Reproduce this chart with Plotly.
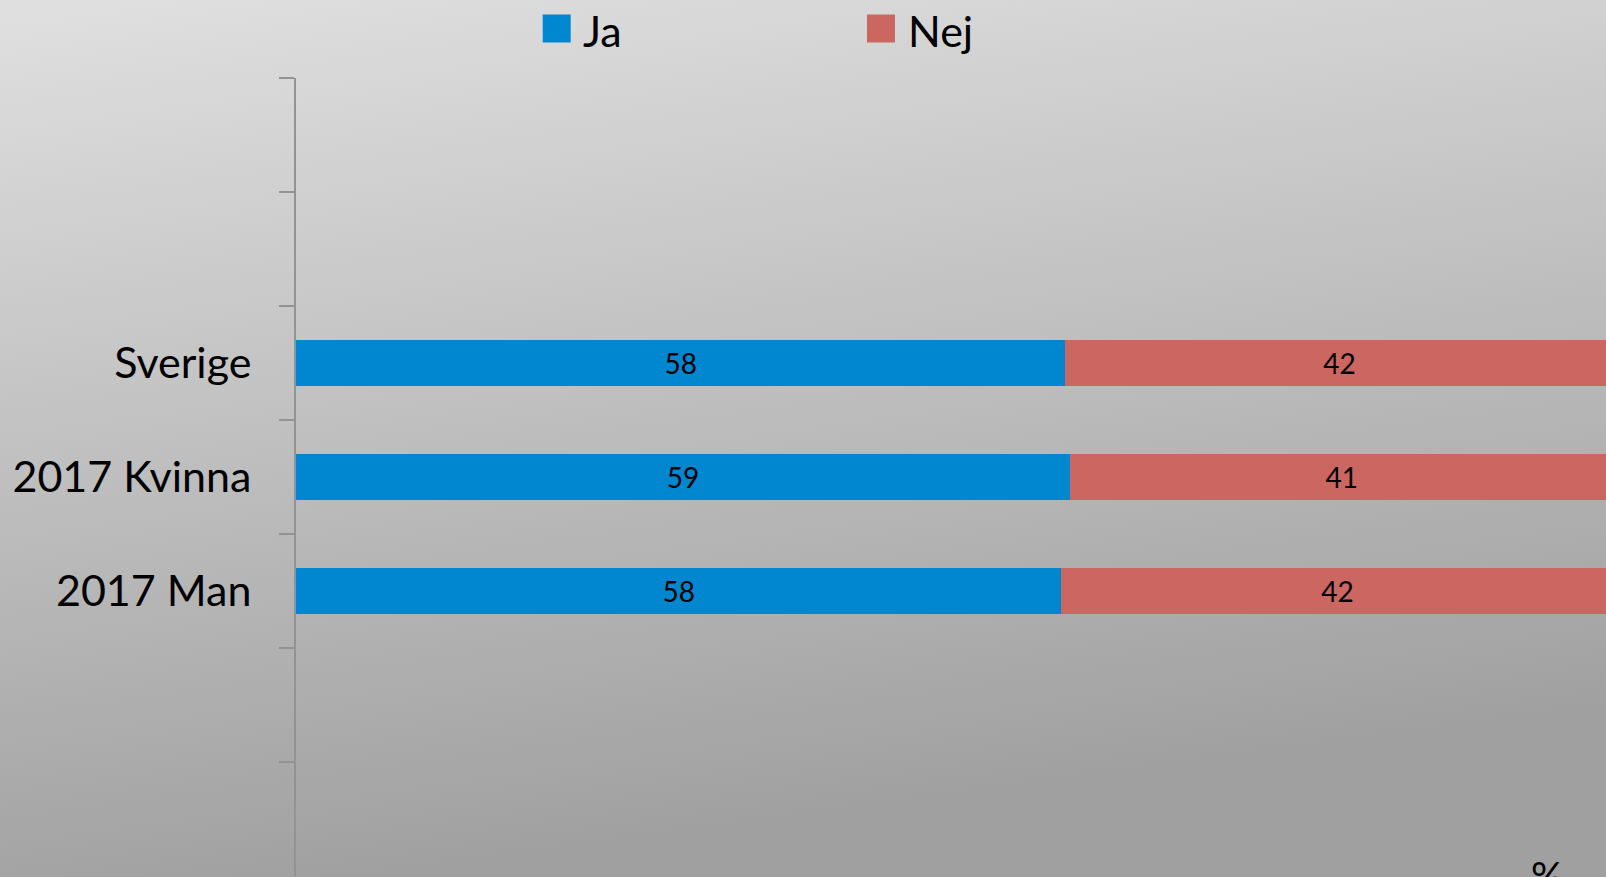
import base64
import plotly.graph_objects as go

# Data (top to bottom)
categories = ["Sverige", "2017 Kvinna", "2017 Man"]
ja_values = [58.4, 58.75, 58.1]
nej_values = [41.6, 41.25, 41.9]
series_names = ["Ja", "Nej"]
axis_unit = "%"
# empty slots above and below the bars, as in the original
slot_order = [" ", "  "] + categories + ["   ", "    "]

BLUE = "#0087CF"
RED = "#CC6660"
FONT = "Lato"

W, H = 1606, 877
L, T, B = 296, 78, 1
plot_w = W - L
plot_h = H - T - B


def px2x(px):
    return (px - L) / plot_w


def py2y(py):
    return (H - B - py) / plot_h


# Gradient background as an inline svg image
svg = (
    f'<svg xmlns="http://www.w3.org/2000/svg" width="{W}" height="{H}">'
    '<defs><linearGradient id="g" x1="0" y1="0" x2="0.25" y2="1">'
    '<stop offset="0" stop-color="#e0e0e0"/>'
    '<stop offset="1" stop-color="#a0a0a0"/>'
    '</linearGradient></defs>'
    f'<rect width="{W}" height="{H}" fill="url(#g)"/></svg>'
)
bg_src = "data:image/svg+xml;base64," + base64.b64encode(svg.encode()).decode()

fig = go.Figure()
for name, vals, col in [(series_names[0], ja_values, BLUE),
                        (series_names[1], nej_values, RED)]:
    fig.add_trace(go.Bar(
        y=categories, x=vals, name=name, orientation="h",
        marker=dict(color=col, line=dict(width=0)),
        texttemplate="%{x:.0f}", textposition="inside",
        insidetextanchor="middle", textangle=0, constraintext="none",
        textfont=dict(family=FONT, size=28, color="#000000"),
        showlegend=False,
    ))

# Hand-made legend (big squares like the original)
legend_items = [(series_names[0], BLUE, 542.7, 581), (series_names[1], RED, 867, 906)]
for name, col, sx, tx in legend_items:
    fig.add_shape(type="rect", xref="paper", yref="paper",
                  x0=px2x(sx), x1=px2x(sx + 28), y0=py2y(42.5), y1=py2y(14.5),
                  fillcolor=col, line=dict(width=0))
    fig.add_annotation(text=name, xref="paper", yref="paper",
                       x=px2x(tx), y=py2y(31), xanchor="left", yanchor="middle",
                       showarrow=False, font=dict(family=FONT, size=43, color="#000000"))

fig.add_annotation(text=axis_unit, xref="paper", yref="paper",
                   x=px2x(1547), y=py2y(850), xanchor="center", yanchor="top",
                   showarrow=False, font=dict(family=FONT, size=40, color="#000000"))

fig.add_layout_image(dict(
    source=bg_src, xref="paper", yref="paper",
    x=px2x(0), y=py2y(0), sizex=W / plot_w, sizey=H / plot_h,
    sizing="stretch", xanchor="left", yanchor="top", layer="below",
))

fig.update_layout(
    width=W, height=H,
    margin=dict(l=L, r=0, t=T, b=B, pad=0),
    barmode="stack", bargap=0.59,
    paper_bgcolor="rgba(0,0,0,0)", plot_bgcolor="rgba(0,0,0,0)",
    font=dict(family=FONT, color="#000000"),
    xaxis=dict(range=[0, 99.43], showgrid=False, zeroline=False,
               showticklabels=False, ticks="", showline=False),
    yaxis=dict(categoryorder="array", categoryarray=slot_order,
               range=[len(slot_order) - 0.5, -0.5],
               showgrid=False, zeroline=False,
               showline=True, linecolor="#939393", linewidth=2,
               ticks="outside", ticklen=15, tickwidth=2, tickcolor="#939393",
               tickson="boundaries", ticklabelstandoff=34,
               tickfont=dict(family=FONT, size=43, color="#000000")),
)

fig.write_html("out.html", config={"displayModeBar": False},
               post_script="document.body.style.margin='0px';")
